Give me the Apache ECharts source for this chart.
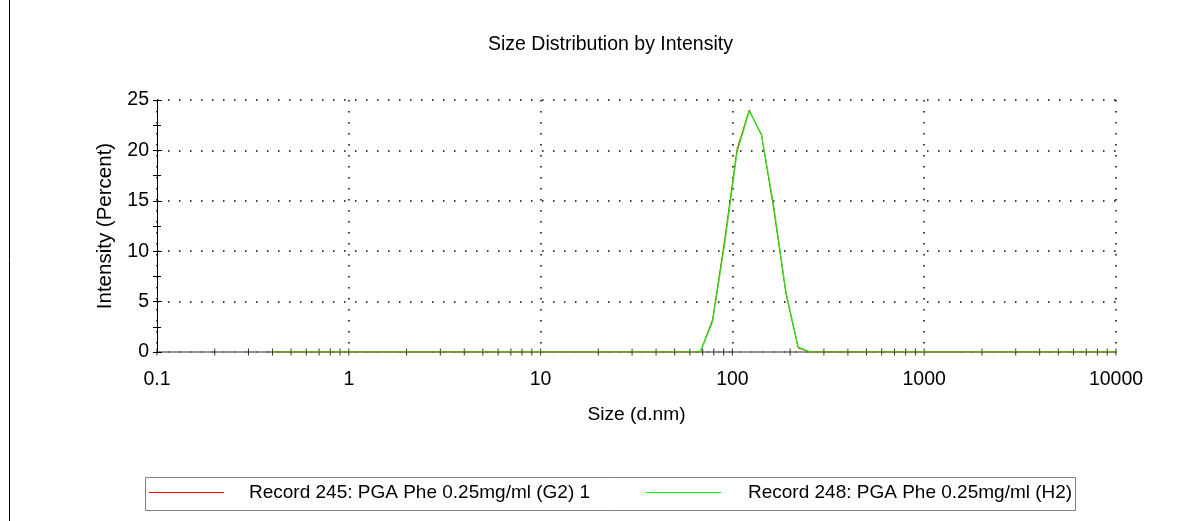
<!DOCTYPE html>
<html><head><meta charset="utf-8">
<script src="https://cdn.jsdelivr.net/npm/echarts@6/dist/echarts.min.js"></script>
<style>html,body{margin:0;padding:0;background:#fff}#c{width:1201px;height:521px}</style>
</head><body><div id="c"></div>
<script>
const sizes = [0.4,0.4632,0.5365,0.6213,0.7195,0.8332,0.9649,1.117,1.294,1.499,
  1.736,2.01,2.328,2.696,3.122,3.615,4.187,4.849,5.615,6.503,
  7.531,8.721,10.1,11.7,13.54,15.69,18.17,21.04,24.36,28.21,
  32.67,37.84,43.82,50.75,58.77,68.06,78.82,91.28,105.7,122.4,
  141.8,164.2,190.1,220.2,255.0,295.3,342.0,396.1,458.7,531.2,
  615.1,712.4,825.0,955.4,1106,1281,1484,1718,1990,2305,
  2669,3091,3580,4145,4801,5560,6439,7456,8635,10000];
const record245 = [0,0,0,0,0,0,0,0,0,0,
  0,0,0,0,0,0,0,0,0,0,
  0,0,0,0,0,0,0,0,0,0,
  0,0,0,0,0,0,3.2,11.2,20.1,24.0,
  21.5,14.2,5.8,0.4,0,0,0,0,0,0,
  0,0,0,0,0,0,0,0,0,0,
  0,0,0,0,0,0,0,0,0,0];
const record248 = [0,0,0,0,0,0,0,0,0,0,
  0,0,0,0,0,0,0,0,0,0,
  0,0,0,0,0,0,0,0,0,0,
  0,0,0,0,0,0,3.0,10.8,19.8,23.9,
  21.6,14.5,6.0,0.5,0,0,0,0,0,0,
  0,0,0,0,0,0,0,0,0,0,
  0,0,0,0,0,0,0,0,0,0];
const seriesNames = ['Record 245: PGA Phe 0.25mg/ml (G2) 1', 'Record 248: PGA Phe 0.25mg/ml (H2)'];
const xTickLabels = ['0.1','1','10','100','1000','10000'];
const xMajorTicks = [0.1,1,10,100,1000,10000];
const xMinorTicks = [0.2,0.3,0.4,0.5,0.6,0.7,0.8,0.9,
  2,3,4,5,6,7,8,9, 20,30,40,50,60,70,80,90,
  200,300,400,500,600,700,800,900, 2000,3000,4000,5000,6000,7000,8000,9000];
const yTicks = [0,5,10,15,20,25];

const FONT = '"Liberation Sans", Arial, sans-serif';
const chart = echarts.init(document.getElementById('c'), null, {renderer:'canvas'});
const dotted = {color:'#000', width:1.5, type:[1.5,9.5]};
const pair = a => sizes.map((s,i)=>[s,a[i]]);
const xTickData = xMinorTicks.concat(xMajorTicks).map(v=>[v,0]);

chart.setOption({
  animation:false,
  backgroundColor:'#fff',
  title:{text:'Size Distribution by Intensity', left:488, top:35, padding:0,
    textStyle:{fontFamily:FONT, fontSize:19.5, fontWeight:'normal', color:'#000'}},
  grid:{left:157, right:85, top:100, bottom:169, containLabel:false},
  xAxis:{type:'log', logBase:10, min:0.1, max:10000,
    name:'Size (d.nm)', nameLocation:'middle', nameGap:53,
    nameTextStyle:{fontFamily:FONT, fontSize:19.2, color:'#000'},
    axisLine:{show:true, onZero:false, lineStyle:{color:'#707070', width:1.5}},
    axisTick:{show:false},
    axisLabel:{fontFamily:FONT, fontSize:19.5, color:'#000', margin:18,
      formatter:v=>{const i=xMajorTicks.findIndex(t=>Math.abs(Math.log10(t)-Math.log10(v))<1e-6);return i>=0?xTickLabels[i]:'';}},
    splitLine:{show:true, lineStyle:dotted}},
  yAxis:[{type:'value', min:0, max:25, interval:5,
    name:'Intensity (Percent)', nameLocation:'middle', nameGap:41,
    nameTextStyle:{fontFamily:FONT, fontSize:20.5, color:'#000'},
    axisLine:{show:true, lineStyle:{color:'#000', width:1}},
    axisTick:{show:true, length:4, lineStyle:{color:'#000'}},
    minorTick:{show:true, splitNumber:2, length:4, lineStyle:{color:'#000'}},
    axisLabel:{fontFamily:FONT, fontSize:19.5, color:'#000', margin:8},
    splitLine:{show:true, lineStyle:dotted}},
   {type:'value', min:0, max:25, interval:5, position:'left',
    axisLine:{show:false}, axisLabel:{show:false}, splitLine:{show:false},
    axisTick:{show:true, inside:true, length:5, lineStyle:{color:'#000'}},
    minorTick:{show:true, splitNumber:2, length:4, lineStyle:{color:'#000'}}}],
  legend:[
    {data:[seriesNames[0]], left:149, top:483, padding:0, icon:'rect', itemWidth:75, itemHeight:1,
      textStyle:{fontFamily:FONT, fontSize:19, color:'#000', padding:[0,0,0,20]}},
    {data:[seriesNames[1]], left:646, top:483, padding:0, icon:'rect', itemWidth:75, itemHeight:1,
      textStyle:{fontFamily:FONT, fontSize:19, color:'#000', padding:[0,0,0,22]}}],
  graphic:[
    {type:'line', shape:{x1:9.5,y1:0,x2:9.5,y2:521}, style:{stroke:'#000', lineWidth:1}, silent:true},
    {type:'rect', shape:{x:145.5,y:477.5,width:930,height:33}, style:{fill:'none', stroke:'#808080', lineWidth:1}, silent:true}
  ],
  series:[
    {type:'scatter', data:xTickData, symbol:'rect', symbolSize:[1,7], clip:false, silent:true,
      itemStyle:{color:'#000'}, z:3, legendHoverLink:false},
    {name:seriesNames[0], type:'line', data:pair(record245), showSymbol:false, symbol:'none',
      lineStyle:{color:'#ff0000', width:1}, itemStyle:{color:'#ff0000'}, z:4},
    {name:seriesNames[1], type:'line', data:pair(record248), showSymbol:false, symbol:'none',
      lineStyle:{color:'#00ff00', width:1.2}, itemStyle:{color:'#00ff00'}, z:5}
  ]
});
</script></body></html>
